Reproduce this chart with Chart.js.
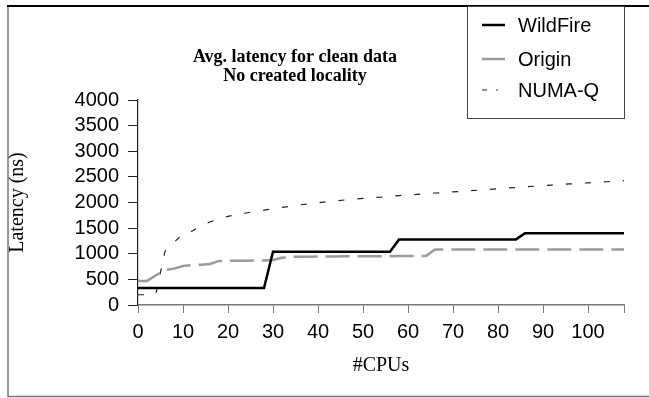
<!DOCTYPE html>
<html><head><meta charset="utf-8">
<script src="https://cdn.jsdelivr.net/npm/chart.js@4"></script>
<style>html,body{margin:0;padding:0;background:#fff;}#wrap{position:relative;width:649px;height:398px;}</style>
</head><body><div id="wrap"><canvas id="c" width="649" height="398"></canvas></div>
<script>
const cpus = [0,2,4,6,8,10,12,14,16,18,20,22,24,26,28,30,32,34,36,38,40,42,44,46,48,50,52,54,56,58,60,62,64,66,68,70,72,74,76,78,80,82,84,86,88,90,92,94,96,98,100,102,104,106,108];
const wildfire = [330,330,330,330,330,330,330,330,330,330,330,330,330,330,330,1040,1040,1040,1040,1040,1040,1040,1040,1040,1040,1040,1040,1040,1040,1280,1280,1280,1280,1280,1280,1280,1280,1280,1280,1280,1280,1280,1280,1400,1400,1400,1400,1400,1400,1400,1400,1400,1400,1400,1400];
const origin = [470,470,580,680,710,760,780,785,800,860,860,865,865,870,870,880,920,940,940,940,945,945,945,950,950,950,950,950,950,955,955,955,955,1085,1085,1085,1085,1085,1085,1085,1085,1085,1085,1085,1085,1085,1085,1085,1085,1085,1085,1085,1085,1085,1085];
const numaq = [200,200,220,1050,1220,1400,1440,1550,1620,1680,1730,1765,1795,1825,1850,1880,1905,1930,1955,1975,1995,2015,2030,2050,2065,2080,2095,2105,2120,2135,2145,2160,2172,2185,2195,2207,2218,2230,2243,2256,2270,2282,2293,2305,2317,2330,2340,2352,2363,2374,2384,2395,2405,2415,2425];
const seriesNames = ['WildFire','Origin','NUMA-Q'];
const xTickValues = [0,10,20,30,40,50,60,70,80,90,100,108];
const xTickLabels = ['0','10','20','30','40','50','60','70','80','90','100',''];
const yTickValues = [0,500,1000,1500,2000,2500,3000,3500,4000];
const titleLines = ['Avg. latency for clean data','No created locality'];
const xTitle = '#CPUs';
const yTitle = 'Latency (ns)';

const pts = arr => cpus.map((x,i)=>({x:x,y:arr[i]}));

const framePlugin = {
  id:'frame',
  beforeDraw(chart){
    const ctx = chart.ctx;
    ctx.save();
    ctx.fillStyle='#fff';
    ctx.fillRect(0,0,chart.width,chart.height);
    ctx.strokeStyle='#777'; ctx.lineWidth=1.5;
    ctx.beginPath(); ctx.moveTo(8,6); ctx.lineTo(8,396.5); ctx.lineTo(649,396.5); ctx.stroke();
    ctx.strokeStyle='#000'; ctx.lineWidth=2;
    ctx.beginPath(); ctx.moveTo(7,6); ctx.lineTo(649,6); ctx.stroke();
    ctx.restore();
  },
  afterDraw(chart){
    const ctx = chart.ctx;
    ctx.save();
    ctx.fillStyle='#000';
    ctx.font='bold 18px "Liberation Serif"';
    ctx.textAlign='center'; ctx.textBaseline='alphabetic';
    ctx.fillText(titleLines[0], 295, 62);
    ctx.fillText(titleLines[1], 295, 81);
    ctx.strokeStyle='#444'; ctx.lineWidth=1;
    ctx.strokeRect(467.5,6.5,157,112);
    const ys=[25,59,90];
    const legendDash=[[],[],[5,9,2,20]];
    chart.data.datasets.forEach((ds,i)=>{
      ctx.save();
      ctx.strokeStyle=ds.borderColor; ctx.lineWidth=ds.borderWidth;
      ctx.setLineDash(legendDash[i]);
      ctx.beginPath(); ctx.moveTo(482,ys[i]); ctx.lineTo(505,ys[i]); ctx.stroke();
      ctx.restore();
      ctx.fillStyle='#000';
      ctx.font='20px "Liberation Sans"';
      ctx.textAlign='left'; ctx.textBaseline='middle';
      ctx.fillText(ds.label, 518, ys[i]+1);
    });
    ctx.restore();
  }
};

new Chart(document.getElementById('c'), {
  type:'line',
  data:{datasets:[
    {label:seriesNames[0], data:pts(wildfire), borderColor:'#000', borderWidth:2.5, pointRadius:0, tension:0, fill:false},
    {label:seriesNames[1], data:pts(origin), borderColor:'#9a9a9a', borderWidth:2.5, borderDash:[24,8], pointRadius:0, tension:0, fill:false},
    {label:seriesNames[2], data:pts(numaq), borderColor:'#222', borderWidth:1.2, borderDash:[6,13], pointRadius:0, tension:0, fill:false}
  ]},
  options:{
    responsive:false, animation:false, devicePixelRatio:1,
    layout:{padding:{top:100,right:25,left:0,bottom:0}},
    plugins:{legend:{display:false}, title:{display:false}, tooltip:{enabled:false}},
    scales:{
      x:{type:'linear', min:0, max:108,
        afterBuildTicks:s=>{s.ticks = xTickValues.map(v=>({value:v}));},
        ticks:{autoSkip:false, maxRotation:0, color:'#000', padding:7,
          font:{family:'"Liberation Sans"', size:20},
          callback:(v,i) => xTickLabels[i]},
        grid:{display:true, drawOnChartArea:false, drawTicks:true, tickLength:8, color:'#777'},
        border:{display:true, color:'#777', width:1.5},
        title:{display:true, text:xTitle, color:'#000', font:{family:'"Liberation Serif"', size:20}, padding:{top:0,bottom:20}},
        afterFit:s=>{s.height=93;}
      },
      y:{type:'linear', min:0, max:4000,
        afterBuildTicks:s=>{s.ticks = yTickValues.map(v=>({value:v}));},
        ticks:{autoSkip:false, color:'#000', padding:9, font:{family:'"Liberation Sans"', size:20},
          callback:v => String(v)},
        grid:{display:true, drawOnChartArea:false, drawTicks:true, tickLength:10, color:'#222'},
        border:{display:true, color:'#222', width:1.2},
        title:{display:true, text:yTitle, color:'#000', font:{family:'"Liberation Serif"', size:20}, padding:{top:6,bottom:0}},
        afterFit:s=>{s.width=138;}
      }
    }
  },
  plugins:[framePlugin]
});
</script></body></html>
